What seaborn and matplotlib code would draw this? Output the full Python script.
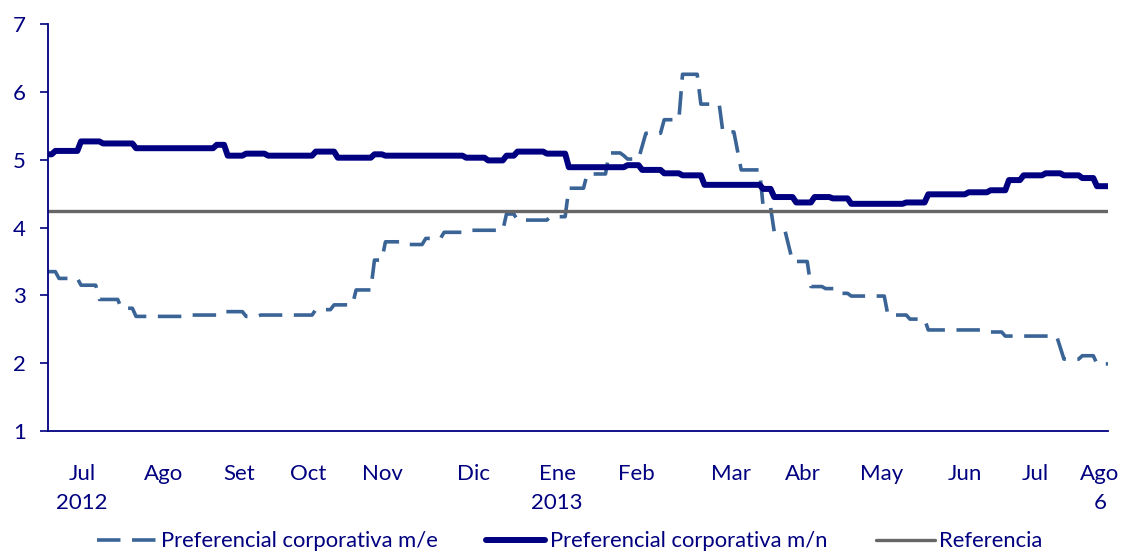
import numpy as np
import pandas as pd
import matplotlib
matplotlib.use("Agg")
import matplotlib.pyplot as plt
import seaborn as sns

# tasas diarias (indice de dia habil), guardadas como tramos: valor y n. de dias
me_vals = [3.35, 3.25, 3.15, 2.94, 2.81, 2.69, 2.71, 2.76, 2.69, 2.71, 2.79, 2.86,
           3.08, 3.52, 3.79, 3.75, 3.84, 3.93, 3.96, 4.20, 4.11, 4.16, 4.58, 4.79,
           5.10, 5.06, 5.01, 5.20, 5.39, 5.59, 6.26, 5.82, 5.41, 5.13, 4.85, 4.30,
           3.94, 3.72, 3.50, 3.13, 3.10, 3.03, 2.99, 2.71, 2.65, 2.49, 2.46, 2.40,
           2.23, 2.06, 2.11, 1.99]
me_days = [3, 6, 5, 6, 4, 14, 9, 7, 4, 15, 5, 6,
           5, 3, 5, 6, 5, 6, 11, 3, 9, 5, 5, 6,
           4, 1, 4, 1, 5, 5, 5, 6, 4, 1, 6, 3,
           4, 1, 5, 4, 4, 3, 10, 6, 5, 16, 5, 15,
           1, 5, 4, 4]

mn_vals = [5.08, 5.13, 5.27, 5.24, 5.17, 5.22, 5.06, 5.09, 5.06, 5.12, 5.03, 5.08,
           5.06, 5.03, 4.99, 5.06, 5.12, 5.09, 4.89, 4.92, 4.85, 4.80, 4.77, 4.63,
           4.57, 4.45, 4.37, 4.45, 4.43, 4.35, 4.37, 4.49, 4.52, 4.55, 4.70, 4.77,
           4.80, 4.77, 4.73, 4.61]
mn_days = [2, 7, 6, 9, 22, 3, 5, 6, 13, 6, 10, 3,
           22, 6, 5, 3, 8, 6, 16, 4, 6, 5, 6, 16,
           3, 6, 5, 5, 5, 15, 6, 11, 6, 5, 4, 6,
           5, 5, 4, 4]

referencia = 4.25

month_pos = [9.3, 31.4, 52.1, 70.9, 91.3, 116.1, 138.8, 160.3, 186.2, 205.8,
             227.4, 250, 269.1, 286.8]
month_labels = ["Jul\n2012", "Ago", "Set", "Oct", "Nov", "Dic", "Ene\n2013", "Feb",
                "Mar", "Abr", "May", "Jun", "Jul", "Ago\n6"]

me = np.repeat(me_vals, me_days)
mn = np.repeat(mn_vals, mn_days)
dia = np.arange(len(mn))
df = pd.DataFrame({"dia": dia, "me": me, "mn": mn, "ref": referencia})

sns.set_style("white")
plt.rcParams["font.family"] = ["Lato", "DejaVu Sans"]
navy = "#000080"

fig = plt.figure(figsize=(11.22, 5.54), dpi=100)
ax = fig.add_axes([0.0428, 0.222, 0.9447, 0.7345])

sns.lineplot(data=df, x="dia", y="me", ax=ax, color="#3A6496", linewidth=2.6,
             linestyle=(0, (6.5, 3.2)), label="Preferencial corporativa m/e")
sns.lineplot(data=df, x="dia", y="mn", ax=ax, color=navy, linewidth=4.3,
             label="Preferencial corporativa m/n")
sns.lineplot(data=df, x="dia", y="ref", ax=ax, color="#666666", linewidth=2.4,
             label="Referencia")

ax.set_xlim(0, len(dia) - 1)
ax.set_ylim(1, 7)
ax.set_yticks(range(1, 8))
ax.set_xticks(month_pos)
ax.set_xticklabels(month_labels, linespacing=1.55)
ax.tick_params(axis="x", length=0, pad=24, labelsize=16, labelcolor=navy)
ax.tick_params(axis="y", length=6, width=1.2, color=navy, direction="out", pad=10,
               labelsize=16, labelcolor=navy, left=True)
ax.set_xlabel("")
ax.set_ylabel("")
for s in ["top", "right"]:
    ax.spines[s].set_visible(False)
for s in ["left", "bottom"]:
    ax.spines[s].set_color(navy)
    ax.spines[s].set_linewidth(1.3)

ax.get_legend().remove()
h, l = ax.get_legend_handles_labels()
fig.legend(h, l, loc="lower center", bbox_to_anchor=(0.508, -0.031), ncol=3,
           frameon=False, fontsize=15.8, handlelength=2.7, columnspacing=2.2,
           handletextpad=0.2, labelcolor=navy)

fig.savefig("out.png", dpi=100)
